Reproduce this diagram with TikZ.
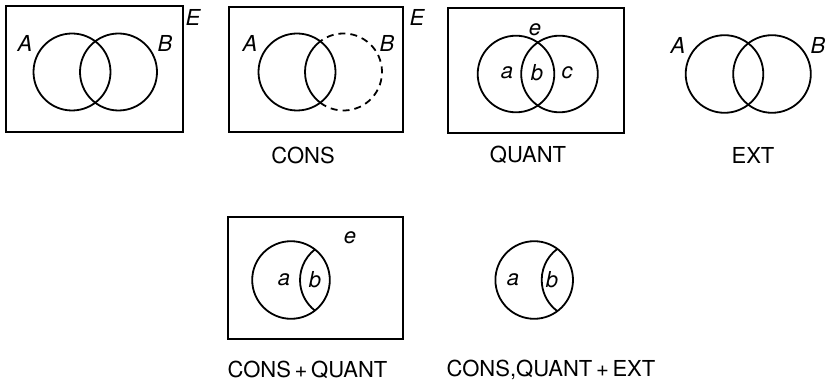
\documentclass[tikz,border=0pt]{standalone}
\usepackage{fontspec}
\setmainfont{TeX Gyre Heros}
\begin{document}
\begin{tikzpicture}[x=1pt,y=1pt,
  frame/.style={draw,line width=1.8pt},
  ring/.style={draw,line width=1.8pt},
  setlab/.style={font=\fontsize{22}{24}\selectfont\itshape,inner sep=0pt},
  caplab/.style={font=\fontsize{22}{25}\selectfont,inner sep=0pt}]
\useasboundingbox (0,0) rectangle (827,386);
% ---------- panel 1 ----------
\node[frame,minimum width=177pt,minimum height=126pt,inner sep=0pt,anchor=south west] (box1) at (5,253) {};
\draw[ring] (72,314) circle (38.5);
\draw[ring] (118.5,314) circle (38.5);
\node[setlab] (A1) at (25,343) {A};
\node[setlab] (B1) at (165,343) {B};
\node[setlab] (E1) at (193,369) {E};
% ---------- panel 2: CONS ----------
\node[frame,minimum width=174pt,minimum height=125pt,inner sep=0pt,anchor=south west] (box2) at (228,253) {};
\draw[ring] (297,314) circle (38.5);
\draw[ring] (343.5,314) ++(127.2:38.5) arc[start angle=127.2,end angle=232.8,radius=38.5];
\draw[ring,dash pattern=on 7pt off 5pt] (343.5,314) ++(232.8:38.5) arc[start angle=232.8,end angle=487.2,radius=38.5];
\node[setlab] (A2) at (250,343) {A};
\node[setlab] (B2) at (387,343) {B};
\node[setlab] (E2) at (417,369) {E};
\node[caplab] (cons) at (303,231) {CONS};
% ---------- panel 3: QUANT ----------
\node[frame,minimum width=176pt,minimum height=125pt,inner sep=0pt,anchor=south west] (box3) at (447,252) {};
\draw[ring] (516,312) circle (38.3);
\draw[ring] (559.5,312) circle (38.3);
\node[setlab] (e3) at (535,356) {e};
\node[setlab] (a3) at (507,313) {a};
\node[setlab] (b3) at (537,313) {b};
\node[setlab] (c3) at (567,313) {c};
\node[caplab] (quant) at (528,231) {QUANT};
% ---------- panel 4: EXT ----------
\draw[ring] (724.5,312) circle (38.8);
\draw[ring] (772,312) circle (38.8);
\node[setlab] (A4) at (678,341) {A};
\node[setlab] (B4) at (818,341) {B};
\node[caplab] (ext) at (753,231) {EXT};
% ---------- panel 5: CONS + QUANT ----------
\node[frame,minimum width=175pt,minimum height=122pt,inner sep=0pt,anchor=south west] (box5) at (227,46) {};
\draw[ring] (291,106) circle (38.8);
\draw[ring] (338.8,106) ++(128:38.8) arc[start angle=128,end angle=232,radius=38.8];
\node[setlab] (e5) at (350,148) {e};
\node[setlab] (a5) at (284,106) {a};
\node[setlab] (b5) at (315,106) {b};
\node[caplab] (cq) at (307.5,16) {CONS\,+\,QUANT};
% ---------- panel 6: CONS, QUANT + EXT ----------
\draw[ring] (534.2,106) circle (38.8);
\draw[ring] (580.5,106) ++(127:38.8) arc[start angle=127,end angle=233,radius=38.8];
\node[setlab] (a6) at (513,106) {a};
\node[setlab] (b6) at (552,106) {b};
\node[caplab] (cqe) at (551,16) {CONS,QUANT\,+\,EXT};
\end{tikzpicture}
\end{document}
